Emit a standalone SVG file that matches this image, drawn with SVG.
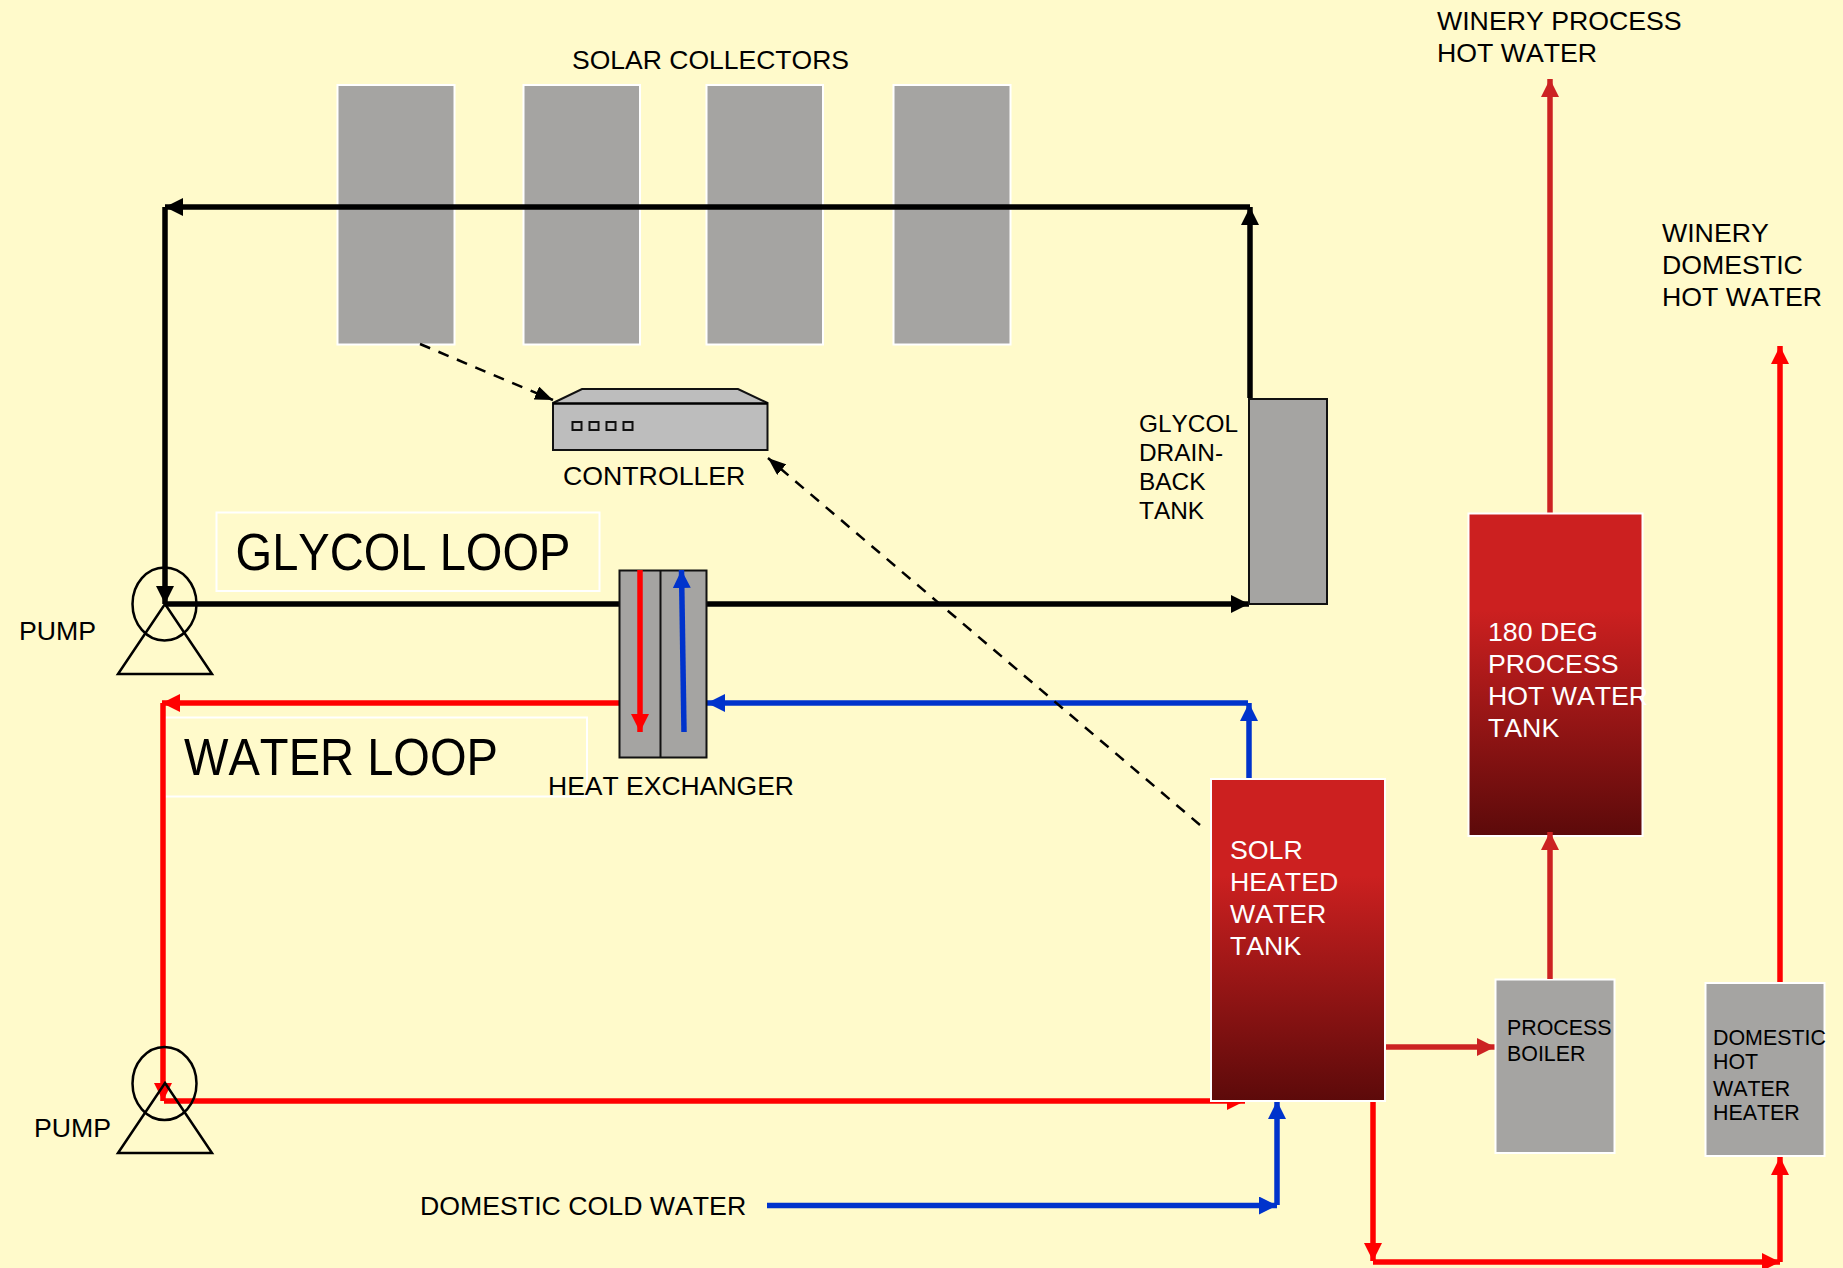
<svg xmlns="http://www.w3.org/2000/svg" width="1843" height="1268" viewBox="0 0 1843 1268">
<style>
text{font-family:"Liberation Sans",Arial,sans-serif;fill:#000;font-kerning:none}
.t27{font-size:26.7px}.t25{font-size:24.4px}.t23{font-size:21.4px}.t50{font-size:52px}
.g{fill:#a5a4a2;stroke:#fff;stroke-width:2}
.gk{fill:#a5a4a2;stroke:#111;stroke-width:2}
.tank{fill:url(#tg);stroke:#fff;stroke-width:2}
.box{fill:#fffacb;stroke:#fff;stroke-width:2}
.c{fill:none;stroke-width:5.5}
.k{stroke:#000}.r{stroke:#f00}.b{stroke:#0033cc}.d{stroke:#cc2222}
.dash{fill:none;stroke:#000;stroke-width:2.5;stroke-dasharray:11 9}
.p{fill:none;stroke:#000;stroke-width:2.5}
</style>
<defs>
<linearGradient id="tg" x1="0" y1="0" x2="0" y2="1"><stop offset="0" stop-color="#cc2020"/><stop offset="0.3" stop-color="#cc2020"/><stop offset="1" stop-color="#5c0a0a"/></linearGradient>
<marker id="mk" markerUnits="userSpaceOnUse" viewBox="0 0 18 18" markerWidth="18" markerHeight="18" refX="18" refY="9" orient="auto"><path d="M0 0L18 9L0 18Z" fill="#000"/></marker>
<marker id="mr" markerUnits="userSpaceOnUse" viewBox="0 0 18 18" markerWidth="18" markerHeight="18" refX="18" refY="9" orient="auto"><path d="M0 0L18 9L0 18Z" fill="#f00"/></marker>
<marker id="mb" markerUnits="userSpaceOnUse" viewBox="0 0 18 18" markerWidth="18" markerHeight="18" refX="18" refY="9" orient="auto"><path d="M0 0L18 9L0 18Z" fill="#0033cc"/></marker>
<marker id="md" markerUnits="userSpaceOnUse" viewBox="0 0 18 18" markerWidth="18" markerHeight="18" refX="18" refY="9" orient="auto"><path d="M0 0L18 9L0 18Z" fill="#cc2222"/></marker>
<marker id="ms" markerUnits="userSpaceOnUse" viewBox="0 0 18 14" markerWidth="18" markerHeight="14" refX="18" refY="7" orient="auto"><path d="M0 0L18 7L0 14Z" fill="#000"/></marker>
</defs>
<rect width="1843" height="1268" fill="#fffacb"/>

<g id="collectors">
<rect class="g" x="337.500" y="85" width="117" height="259.500"/>
<rect class="g" x="523.500" y="85" width="116.500" height="259.500"/>
<rect class="g" x="706.500" y="85" width="116.500" height="259.500"/>
<rect class="g" x="893.500" y="85" width="117" height="259.500"/>
<text class="t27" x="572" y="68.500" textLength="277" lengthAdjust="spacingAndGlyphs">SOLAR COLLECTORS</text>
</g>
<g id="glycol-label"><rect class="box" x="216.500" y="512.500" width="383" height="78.500"/><text class="t50" x="235.500" y="570" textLength="335" lengthAdjust="spacingAndGlyphs">GLYCOL LOOP</text></g>
<g id="water-label"><rect class="box" x="165" y="717.500" width="422" height="79"/><text class="t50" x="184" y="775" textLength="314" lengthAdjust="spacingAndGlyphs">WATER LOOP</text></g>

<g id="connectors">
<path class="c k" d="M1250 398V207" marker-end="url(#mk)"/>
<path class="c k" d="M1250 207H165" marker-end="url(#mk)"/>
<path class="c k" d="M165 207V604" marker-end="url(#mk)"/>
<path class="c k" d="M165 604H1249" marker-end="url(#mk)"/>
<path class="c r" d="M619 703H162" marker-end="url(#mr)"/>
<path class="c r" d="M163 703V1101" marker-end="url(#mr)"/>
<path class="c r" d="M164 1101H1245" marker-end="url(#mr)"/>
<path class="c b" d="M1248 703H707" marker-end="url(#mb)"/>
<path class="c b" d="M1249 779V703" marker-end="url(#mb)"/>
<path class="c b" d="M767 1205.500H1277" marker-end="url(#mb)"/>
<path class="c b" d="M1277 1205V1101" marker-end="url(#mb)"/>
<path class="c r" d="M1373 1101V1261" marker-end="url(#mr)"/>
<path class="c r" d="M1373 1262H1780" marker-end="url(#mr)"/>
<path class="c r" d="M1780 1262V1157" marker-end="url(#mr)"/>
<path class="c d" d="M1386 1047H1495" marker-end="url(#md)"/>
<path class="c d" d="M1550 513V79" marker-end="url(#md)"/>
<path class="c r" d="M1780 982V346" marker-end="url(#mr)"/>
<path class="dash" d="M420 344L553 400" marker-end="url(#ms)"/>
<path class="dash" d="M1200 825L768 458" marker-end="url(#ms)"/>
</g>

<g id="heat-exchanger">
<rect class="gk" x="619.500" y="570.500" width="87" height="187"/>
<path d="M660.500 570V757" stroke="#111" stroke-width="2" fill="none"/>
<path class="c r" d="M640 570V732" marker-end="url(#mr)"/>
<path class="c b" d="M684 732L681.500 570" marker-end="url(#mb)"/>
<text class="t27" x="548" y="795" textLength="246" lengthAdjust="spacingAndGlyphs">HEAT EXCHANGER</text>
</g>
<g id="controller">
<path d="M553 403L582 389H738L767.500 403V450H553Z" fill="#bdbdbd" stroke="#111" stroke-width="2"/>
<path d="M553 403.500H767.500" stroke="#000" stroke-width="2.500"/>
<g fill="#bdbdbd" stroke="#111" stroke-width="2"><rect x="572.500" y="422" width="9" height="8"/><rect x="589.500" y="422" width="9" height="8"/><rect x="606.500" y="422" width="9" height="8"/><rect x="623.500" y="422" width="9" height="8"/></g>
<text class="t27" x="563" y="485">CONTROLLER</text>
</g>
<g id="pump-top"><ellipse class="p" cx="164.500" cy="604" rx="32" ry="36.500"/><path class="p" d="M165 604L212 674H118Z"/><text class="t27" x="19" y="640">PUMP</text></g>
<g id="pump-bottom"><ellipse class="p" cx="164.500" cy="1083.500" rx="32" ry="36.500"/><path class="p" d="M165 1083L212 1153H118Z"/><text class="t27" x="34" y="1137">PUMP</text></g>

<g id="glycol-tank">
<rect class="gk" x="1249" y="399" width="78" height="205"/>
<text class="t25"><tspan x="1139" y="432">GLYCOL</tspan><tspan x="1139" y="461">DRAIN-</tspan><tspan x="1139" y="490">BACK</tspan><tspan x="1139" y="519">TANK</tspan></text>
</g>
<g id="solar-tank">
<rect class="tank" x="1211" y="779" width="174" height="322"/>
<text class="t27" style="fill:#fff"><tspan x="1230" y="859">SOLR</tspan><tspan x="1230" y="891">HEATED</tspan><tspan x="1230" y="923">WATER</tspan><tspan x="1230" y="955">TANK</tspan></text>
</g>
<g id="process-tank">
<rect class="tank" x="1468.500" y="513.500" width="174" height="322.500"/>
<text class="t27" style="fill:#fff"><tspan x="1488" y="640.500">180 DEG</tspan><tspan x="1488" y="672.500">PROCESS</tspan><tspan x="1488" y="704.500">HOT WATER</tspan><tspan x="1488" y="736.500">TANK</tspan></text>
</g>
<g id="process-boiler">
<rect class="g" x="1495.500" y="979.500" width="119" height="173.500"/>
<text class="t23"><tspan x="1507" y="1035">PROCESS</tspan><tspan x="1507" y="1061">BOILER</tspan></text>
</g>
<g id="domestic-heater">
<rect class="g" x="1705.500" y="983" width="119" height="173"/>
<text class="t23"><tspan x="1713" y="1044.500">DOMESTIC</tspan><tspan x="1713" y="1068.500">HOT</tspan><tspan x="1713" y="1096">WATER</tspan><tspan x="1713" y="1120">HEATER</tspan></text>
</g>
<g id="connectors-top"><path class="c d" d="M1550 979V832" marker-end="url(#md)"/></g>
<g id="labels">
<text class="t27"><tspan x="1437" y="30">WINERY PROCESS</tspan><tspan x="1437" y="61.500">HOT WATER</tspan></text>
<text class="t27"><tspan x="1662" y="242">WINERY</tspan><tspan x="1662" y="274">DOMESTIC</tspan><tspan x="1662" y="306">HOT WATER</tspan></text>
<text class="t27" x="420" y="1215">DOMESTIC COLD WATER</text>
</g>
</svg>
